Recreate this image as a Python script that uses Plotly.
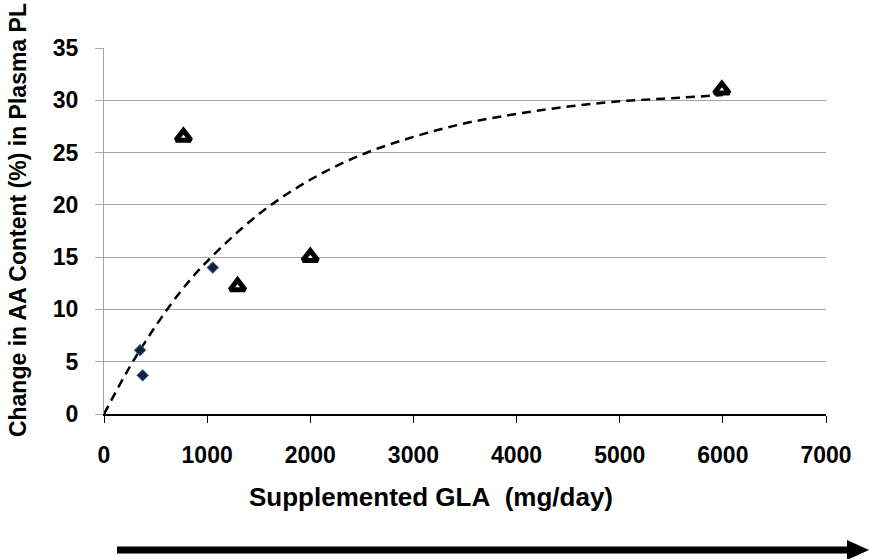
import plotly.graph_objects as go

# Data
diamond_x = [350, 375, 1055]
diamond_y = [6.1, 3.7, 14.0]

triangle_x = [770, 1295, 2000, 5990]
triangle_y = [26.5, 12.2, 15.0, 31.0]

trend_x = [0, 250, 500, 750, 1000, 1500, 2000, 2500, 3000, 3500, 4000, 4500, 5000, 5500, 6000]
trend_y = [0, 4.5, 8.4, 11.8, 14.6, 19.1, 22.4, 24.8, 26.5, 27.8, 28.7, 29.4, 29.9, 30.2, 30.5]

x_ticks = [0, 1000, 2000, 3000, 4000, 5000, 6000, 7000]
y_ticks = [0, 5, 10, 15, 20, 25, 30, 35]

FONT = "Liberation Sans, Arial, sans-serif"

fig = go.Figure()
fig.add_trace(go.Scatter(x=trend_x, y=trend_y, mode="lines", line_shape="spline",
                         line=dict(color="black", width=2.5, dash="9px,6px"),
                         hoverinfo="skip", showlegend=False))
fig.add_trace(go.Scatter(x=diamond_x, y=diamond_y, mode="markers",
                         marker=dict(symbol="diamond", size=9, color="#14213d",
                                     line=dict(color="#4a7ebb", width=1)),
                         showlegend=False))
fig.add_trace(go.Scatter(x=triangle_x, y=triangle_y, mode="markers",
                         marker=dict(symbol="triangle-up", size=13, color="white",
                                     line=dict(color="black", width=5)),
                         showlegend=False))

fig.update_layout(
    width=869, height=559,
    margin=dict(l=104, r=43, t=48, b=145),
    plot_bgcolor="white", paper_bgcolor="white",
    font=dict(family=FONT, color="black"),
    xaxis=dict(range=[0, 7000], tickvals=x_ticks, ticktext=[str(v) for v in x_ticks],
               showgrid=False, zeroline=False, showline=True, linecolor="black", linewidth=1.5,
               ticks="outside", ticklen=7, tickcolor="black", ticklabelstandoff=13,
               tickfont=dict(size=23, family=FONT, weight="bold"), fixedrange=True),
    yaxis=dict(range=[0, 35], tickvals=y_ticks, ticktext=[str(v) for v in y_ticks],
               showgrid=True, gridcolor="#a6a6a6", gridwidth=1, zeroline=False,
               showline=True, linecolor="#a6a6a6", linewidth=1,
               ticks="outside", ticklen=8, tickcolor="#a6a6a6", ticklabelstandoff=12,
               tickfont=dict(size=23, family=FONT, weight="bold"), fixedrange=True),
)

fig.add_annotation(text="Change in AA Content (%) in Plasma PL", textangle=-90,
                   xref="paper", yref="paper", x=-0.119, y=0.530, xanchor="center", yanchor="middle",
                   showarrow=False, font=dict(size=23, family=FONT, weight="bold"))
fig.add_annotation(text="Supplemented GLA&nbsp;&nbsp;(mg/day)",
                   xref="paper", yref="paper", x=0.453, y=-0.227, xanchor="center", yanchor="middle",
                   showarrow=False, font=dict(size=26, family=FONT, weight="bold"))

# bottom arrow
fig.add_shape(type="line", xref="paper", yref="paper", x0=(117-104)/722, x1=(852-104)/722,
              y0=(414-550)/366, y1=(414-550)/366, line=dict(color="black", width=7))
fig.add_shape(type="path", xref="paper", yref="paper",
              path="M {a} {b} L {c} {d} L {a} {e} Z".format(
                  a=(847-104)/722, b=(414-540)/366, c=(869-104)/722, d=(414-550)/366, e=(414-560)/366),
              fillcolor="black", line=dict(color="black", width=0))

fig.write_html("out.html")
